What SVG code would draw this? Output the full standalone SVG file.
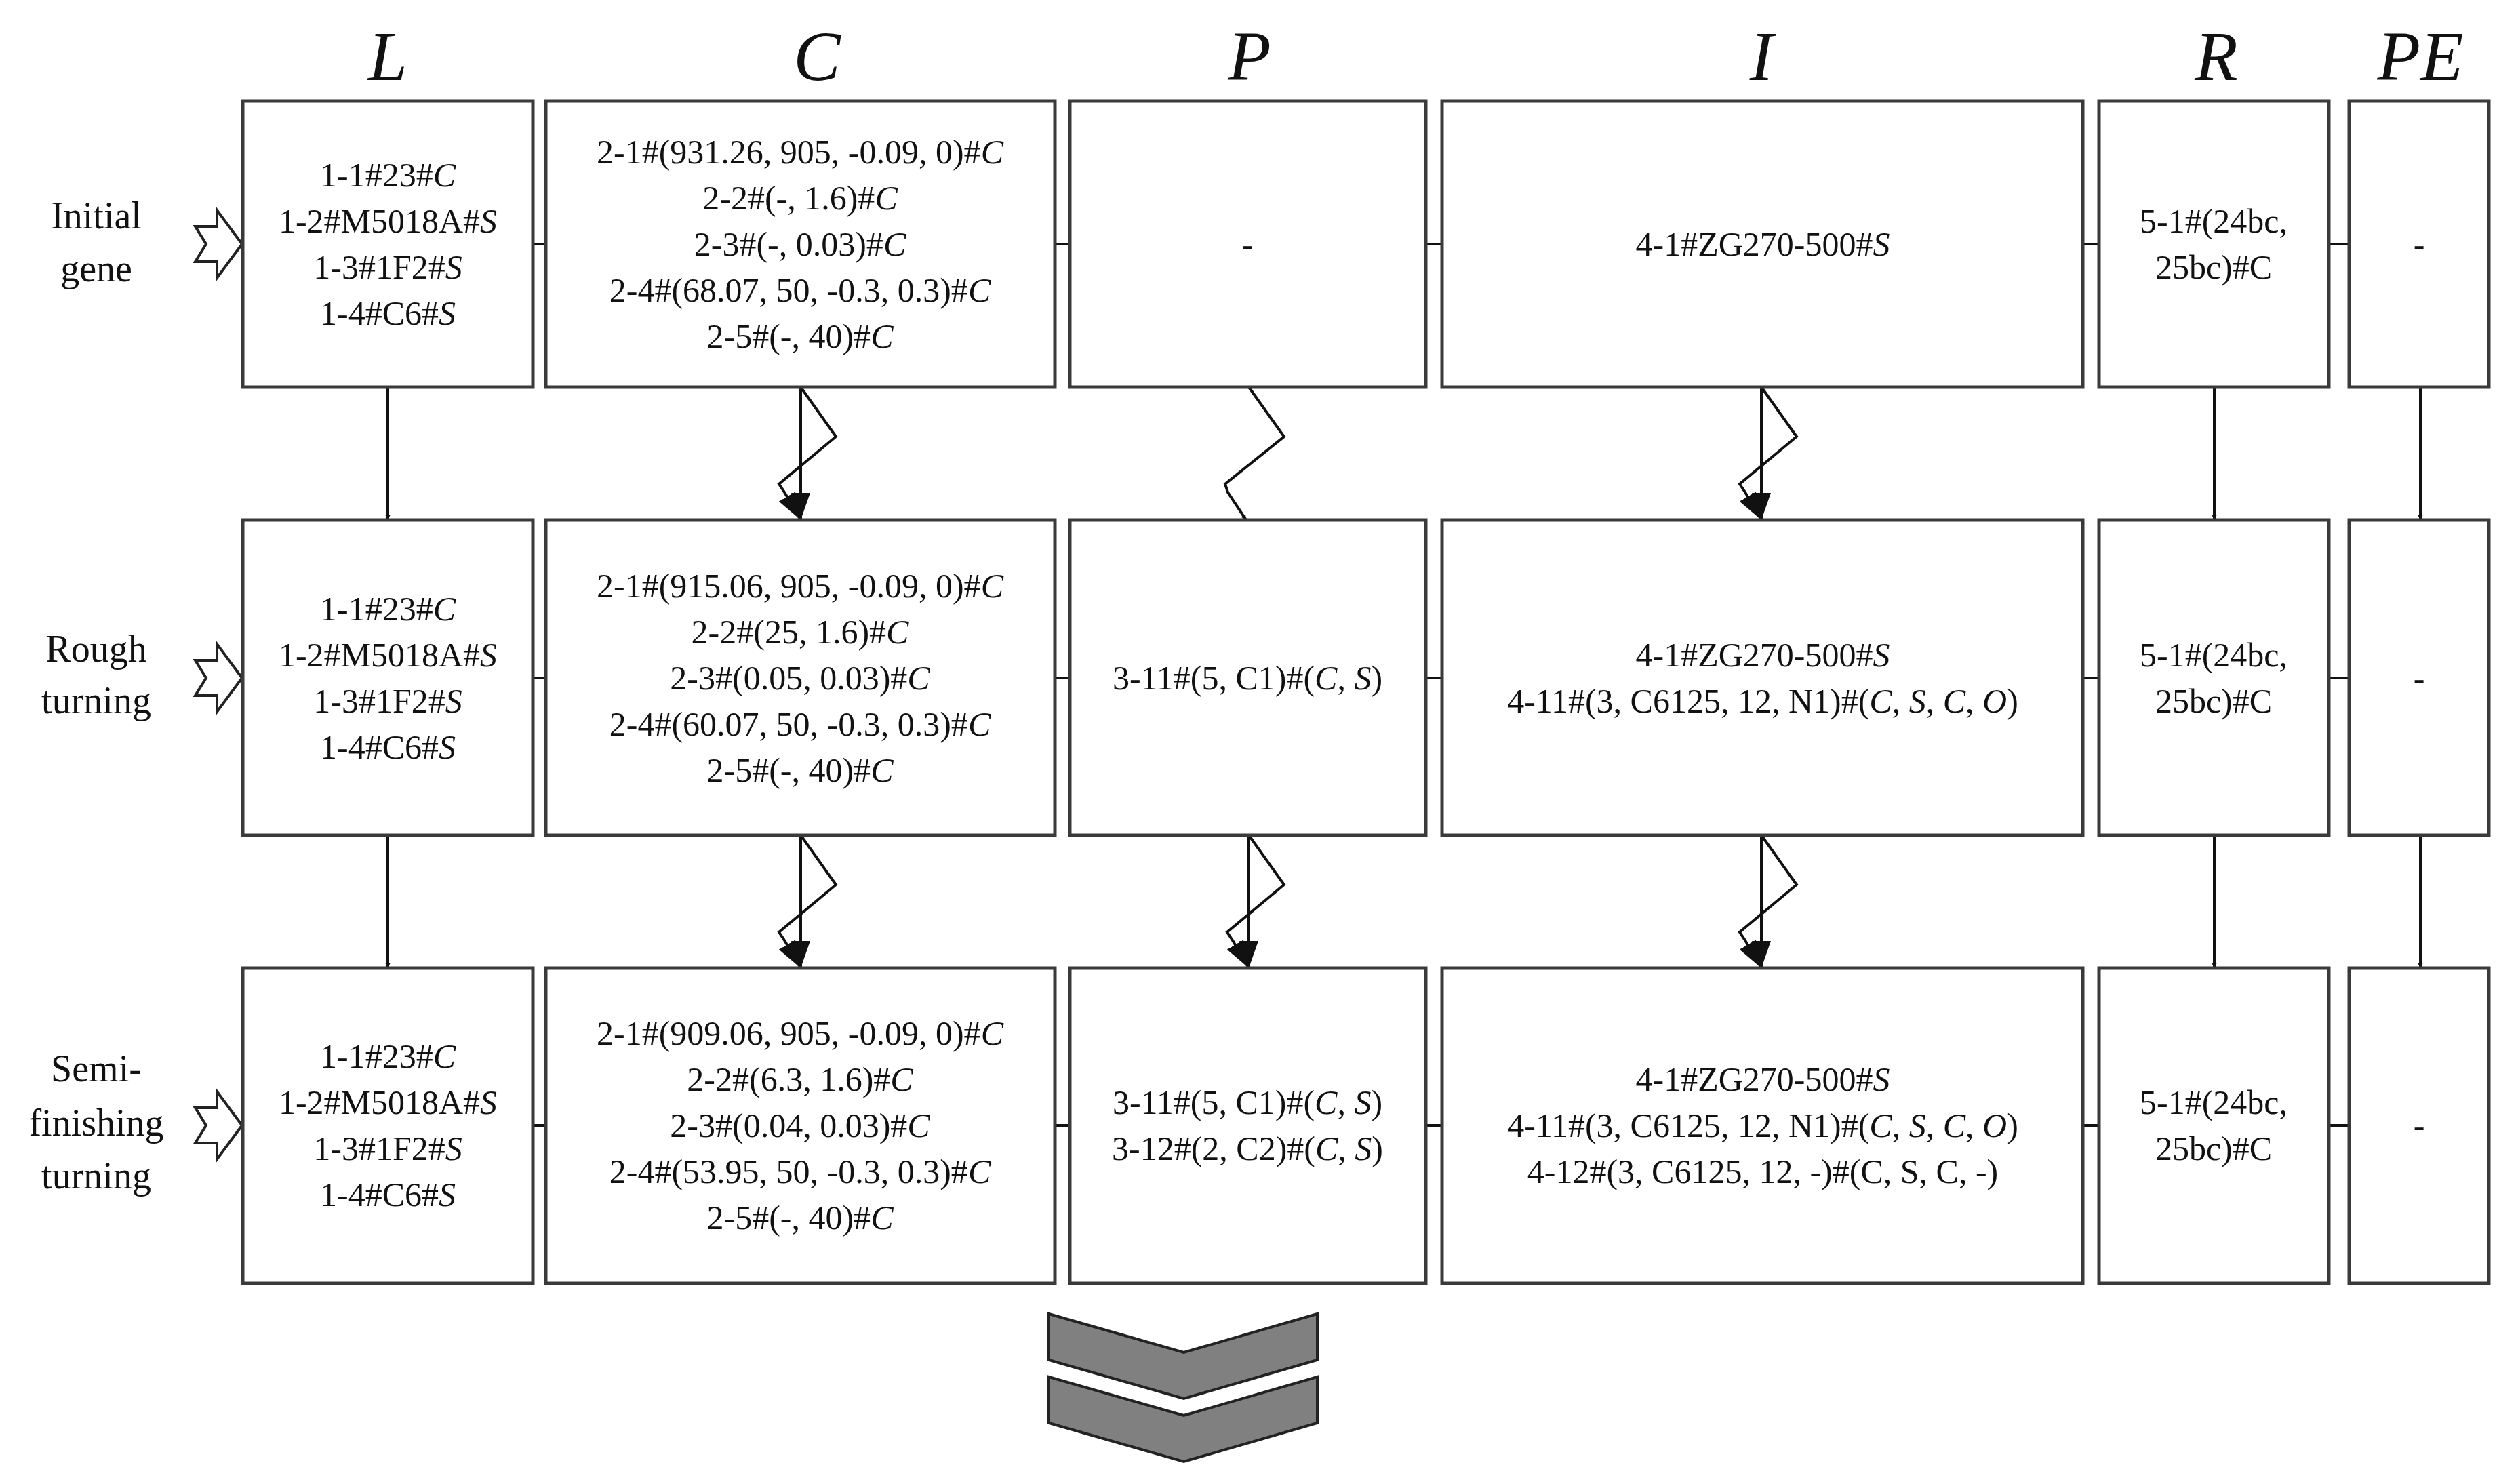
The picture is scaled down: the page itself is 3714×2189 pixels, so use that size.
<svg xmlns="http://www.w3.org/2000/svg" width="3714" height="2189" viewBox="0 0 3714 2189">
<style>
.box{fill:#fff;stroke:#3a3a3a;stroke-width:5}
.t{font-family:"Liberation Serif",serif;font-size:50px;text-anchor:middle;fill:#111}
.lab{font-family:"Liberation Serif",serif;font-size:56px;text-anchor:middle;fill:#111}
.h{font-family:"Liberation Serif",serif;font-size:104px;font-style:italic;text-anchor:middle;fill:#111}
.i{font-style:italic}
.ln{stroke:#111;stroke-width:4;fill:none}
.ha{fill:#fff;stroke:#222;stroke-width:4}
.chev{fill:#808080;stroke:#222;stroke-width:4}
</style>
<defs>
<marker id="ah" viewBox="0 0 10 10" refX="10" refY="5" markerWidth="8" markerHeight="8" markerUnits="userSpaceOnUse" orient="auto">
<path d="M0,0 L10,5 L0,10 Z" fill="#111"/>
</marker>
<marker id="ahs" viewBox="0 0 10 10" refX="10" refY="5" markerWidth="40" markerHeight="28" markerUnits="userSpaceOnUse" orient="auto" preserveAspectRatio="none">
<path d="M0,0 L10,5 L0,10 Z" fill="#111"/>
</marker>
</defs>
<g id="headers">
<text class="h" x="572" y="118">L</text>
<text class="h" x="1205" y="118">C</text>
<text class="h" x="1843" y="118">P</text>
<text class="h" x="2598" y="118">I</text>
<text class="h" x="3269" y="118">R</text>
<text class="h" x="3570" y="118">PE</text>
</g>
<g id="row-labels">
<text class="lab" x="142" y="337">Initial</text><text class="lab" x="142" y="415">gene</text>
<text class="lab" x="142" y="976">Rough</text><text class="lab" x="142" y="1052">turning</text>
<text class="lab" x="142" y="1595">Semi-</text><text class="lab" x="142" y="1675">finishing</text><text class="lab" x="142" y="1753">turning</text>
<polygon class="ha" points="288,334 320,334 320,310 357,360 320,410 320,386 288,386 304,360"/>
<polygon class="ha" points="288,974 320,974 320,950 357,1000 320,1050 320,1026 288,1026 304,1000"/>
<polygon class="ha" points="288,1634 320,1634 320,1610 357,1660 320,1710 320,1686 288,1686 304,1660"/>
</g>
<g id="connectors">
<line class="ln" x1="786" y1="360" x2="805" y2="360"/><line class="ln" x1="1556" y1="360" x2="1578" y2="360"/><line class="ln" x1="2103" y1="360" x2="2127" y2="360"/><line class="ln" x1="3072" y1="360" x2="3096" y2="360"/><line class="ln" x1="3435" y1="360" x2="3465" y2="360"/>
<line class="ln" x1="786" y1="1000" x2="805" y2="1000"/><line class="ln" x1="1556" y1="1000" x2="1578" y2="1000"/><line class="ln" x1="2103" y1="1000" x2="2127" y2="1000"/><line class="ln" x1="3072" y1="1000" x2="3096" y2="1000"/><line class="ln" x1="3435" y1="1000" x2="3465" y2="1000"/>
<line class="ln" x1="786" y1="1660" x2="805" y2="1660"/><line class="ln" x1="1556" y1="1660" x2="1578" y2="1660"/><line class="ln" x1="2103" y1="1660" x2="2127" y2="1660"/><line class="ln" x1="3072" y1="1660" x2="3096" y2="1660"/><line class="ln" x1="3435" y1="1660" x2="3465" y2="1660"/>
<!-- row1 to row2 -->
<line class="ln" x1="572" y1="571" x2="572" y2="767" marker-end="url(#ah)"/>
<line class="ln" x1="1181" y1="571" x2="1181" y2="767" marker-end="url(#ahs)"/>
<polyline class="ln" points="1181,571 1233,644 1149,714 1157,726 1181,767" marker-end="url(#ahs)"/>
<polyline class="ln" points="1842,571 1894,644 1807,714 1811,726 1838,767" marker-end="url(#ah)"/>
<line class="ln" x1="2598" y1="571" x2="2598" y2="767" marker-end="url(#ahs)"/>
<polyline class="ln" points="2598,571 2650,644 2566,714 2574,726 2598,767" marker-end="url(#ahs)"/>
<line class="ln" x1="3266" y1="571" x2="3266" y2="767" marker-end="url(#ah)"/>
<line class="ln" x1="3570" y1="571" x2="3570" y2="767" marker-end="url(#ah)"/>
<!-- row2 to row3 -->
<line class="ln" x1="572" y1="1232" x2="572" y2="1428" marker-end="url(#ah)"/>
<line class="ln" x1="1181" y1="1232" x2="1181" y2="1428" marker-end="url(#ahs)"/>
<polyline class="ln" points="1181,1232 1233,1305 1149,1375 1157,1387 1181,1428" marker-end="url(#ahs)"/>
<line class="ln" x1="1842" y1="1232" x2="1842" y2="1428" marker-end="url(#ahs)"/>
<polyline class="ln" points="1842,1232 1894,1305 1810,1375 1818,1387 1842,1428" marker-end="url(#ahs)"/>
<line class="ln" x1="2598" y1="1232" x2="2598" y2="1428" marker-end="url(#ahs)"/>
<polyline class="ln" points="2598,1232 2650,1305 2566,1375 2574,1387 2598,1428" marker-end="url(#ahs)"/>
<line class="ln" x1="3266" y1="1232" x2="3266" y2="1428" marker-end="url(#ah)"/>
<line class="ln" x1="3570" y1="1232" x2="3570" y2="1428" marker-end="url(#ah)"/>
</g>
<!-- Row 1 -->
<g id="L1"><rect class="box" x="358" y="149" width="428" height="422"/>
<text class="t" x="572" y="275">1-1#23#<tspan class="i">C</tspan></text><text class="t" x="572" y="343">1-2#M5018A#<tspan class="i">S</tspan></text><text class="t" x="572" y="411">1-3#1F2#<tspan class="i">S</tspan></text><text class="t" x="572" y="479">1-4#C6#<tspan class="i">S</tspan></text></g>
<g id="C1"><rect class="box" x="805" y="149" width="751" height="422"/>
<text class="t" x="1180" y="241">2-1#(931.26, 905, -0.09, 0)#<tspan class="i">C</tspan></text><text class="t" x="1180" y="309">2-2#(-, 1.6)#<tspan class="i">C</tspan></text><text class="t" x="1180" y="377">2-3#(-, 0.03)#<tspan class="i">C</tspan></text><text class="t" x="1180" y="445">2-4#(68.07, 50, -0.3, 0.3)#<tspan class="i">C</tspan></text><text class="t" x="1180" y="513">2-5#(-, 40)#<tspan class="i">C</tspan></text></g>
<g id="P1"><rect class="box" x="1578" y="149" width="525" height="422"/><text class="t" x="1840" y="377">-</text></g>
<g id="I1"><rect class="box" x="2127" y="149" width="945" height="422"/><text class="t" x="2600" y="377">4-1#ZG270-500#<tspan class="i">S</tspan></text></g>
<g id="R1"><rect class="box" x="3096" y="149" width="339" height="422"/><text class="t" x="3265" y="343">5-1#(24bc,</text><text class="t" x="3265" y="411">25bc)#C</text></g>
<g id="PE1"><rect class="box" x="3465" y="149" width="206" height="422"/><text class="t" x="3568" y="377">-</text></g>
<!-- Row 2 -->
<g id="L2"><rect class="box" x="358" y="767" width="428" height="465"/>
<text class="t" x="572" y="915">1-1#23#<tspan class="i">C</tspan></text><text class="t" x="572" y="983">1-2#M5018A#<tspan class="i">S</tspan></text><text class="t" x="572" y="1051">1-3#1F2#<tspan class="i">S</tspan></text><text class="t" x="572" y="1119">1-4#C6#<tspan class="i">S</tspan></text></g>
<g id="C2"><rect class="box" x="805" y="767" width="751" height="465"/>
<text class="t" x="1180" y="881">2-1#(915.06, 905, -0.09, 0)#<tspan class="i">C</tspan></text><text class="t" x="1180" y="949">2-2#(25, 1.6)#<tspan class="i">C</tspan></text><text class="t" x="1180" y="1017">2-3#(0.05, 0.03)#<tspan class="i">C</tspan></text><text class="t" x="1180" y="1085">2-4#(60.07, 50, -0.3, 0.3)#<tspan class="i">C</tspan></text><text class="t" x="1180" y="1153">2-5#(-, 40)#<tspan class="i">C</tspan></text></g>
<g id="P2"><rect class="box" x="1578" y="767" width="525" height="465"/><text class="t" x="1840" y="1017">3-11#(5, C1)#(<tspan class="i">C</tspan>, <tspan class="i">S</tspan>)</text></g>
<g id="I2"><rect class="box" x="2127" y="767" width="945" height="465"/><text class="t" x="2600" y="983">4-1#ZG270-500#<tspan class="i">S</tspan></text><text class="t" x="2600" y="1051">4-11#(3, C6125, 12, N1)#(<tspan class="i">C</tspan>, <tspan class="i">S</tspan>, <tspan class="i">C</tspan>, <tspan class="i">O</tspan>)</text></g>
<g id="R2"><rect class="box" x="3096" y="767" width="339" height="465"/><text class="t" x="3265" y="983">5-1#(24bc,</text><text class="t" x="3265" y="1051">25bc)#C</text></g>
<g id="PE2"><rect class="box" x="3465" y="767" width="206" height="465"/><text class="t" x="3568" y="1017">-</text></g>
<!-- Row 3 -->
<g id="L3"><rect class="box" x="358" y="1428" width="428" height="465"/>
<text class="t" x="572" y="1575">1-1#23#<tspan class="i">C</tspan></text><text class="t" x="572" y="1643">1-2#M5018A#<tspan class="i">S</tspan></text><text class="t" x="572" y="1711">1-3#1F2#<tspan class="i">S</tspan></text><text class="t" x="572" y="1779">1-4#C6#<tspan class="i">S</tspan></text></g>
<g id="C3"><rect class="box" x="805" y="1428" width="751" height="465"/>
<text class="t" x="1180" y="1541">2-1#(909.06, 905, -0.09, 0)#<tspan class="i">C</tspan></text><text class="t" x="1180" y="1609">2-2#(6.3, 1.6)#<tspan class="i">C</tspan></text><text class="t" x="1180" y="1677">2-3#(0.04, 0.03)#<tspan class="i">C</tspan></text><text class="t" x="1180" y="1745">2-4#(53.95, 50, -0.3, 0.3)#<tspan class="i">C</tspan></text><text class="t" x="1180" y="1813">2-5#(-, 40)#<tspan class="i">C</tspan></text></g>
<g id="P3"><rect class="box" x="1578" y="1428" width="525" height="465"/><text class="t" x="1840" y="1643">3-11#(5, C1)#(<tspan class="i">C</tspan>, <tspan class="i">S</tspan>)</text><text class="t" x="1840" y="1711">3-12#(2, C2)#(<tspan class="i">C</tspan>, <tspan class="i">S</tspan>)</text></g>
<g id="I3"><rect class="box" x="2127" y="1428" width="945" height="465"/><text class="t" x="2600" y="1609">4-1#ZG270-500#<tspan class="i">S</tspan></text><text class="t" x="2600" y="1677">4-11#(3, C6125, 12, N1)#(<tspan class="i">C</tspan>, <tspan class="i">S</tspan>, <tspan class="i">C</tspan>, <tspan class="i">O</tspan>)</text><text class="t" x="2600" y="1745">4-12#(3, C6125, 12, -)#(C, S, C, -)</text></g>
<g id="R3"><rect class="box" x="3096" y="1428" width="339" height="465"/><text class="t" x="3265" y="1643">5-1#(24bc,</text><text class="t" x="3265" y="1711">25bc)#C</text></g>
<g id="PE3"><rect class="box" x="3465" y="1428" width="206" height="465"/><text class="t" x="3568" y="1677">-</text></g>
<g id="chevrons">
<polygon class="chev" points="1547,1938 1746,1995 1943,1938 1943,2006 1746,2063 1547,2006"/>
<polygon class="chev" points="1547,2031 1746,2088 1943,2031 1943,2099 1746,2156 1547,2099"/>
</g>
</svg>
